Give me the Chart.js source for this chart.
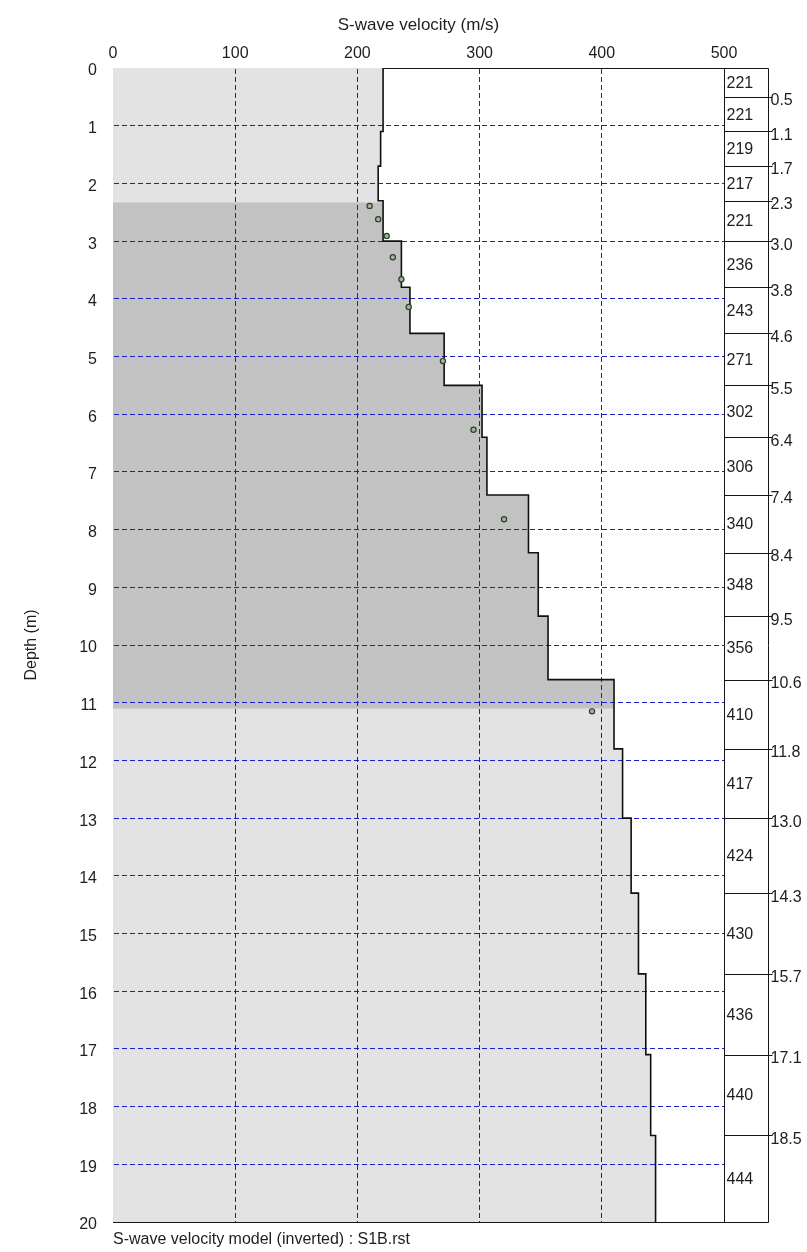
<!DOCTYPE html>
<html>
<head>
<meta charset="utf-8">
<script src="https://cdn.jsdelivr.net/npm/chart.js@4.4.1/dist/chart.umd.min.js"></script>
<style>
html,body{margin:0;padding:0;background:#ffffff;}
#wrap{width:807px;height:1252px;}
</style>
</head>
<body>
<div id="wrap"><canvas id="c" width="807" height="1252"></canvas></div>
<script>
// ---- data ----
const layerBoundaries = [0, 0.5, 1.1, 1.7, 2.3, 3.0, 3.8, 4.6, 5.5, 6.4, 7.4, 8.4, 9.5, 10.6, 11.8, 13.0, 14.3, 15.7, 17.1, 18.5, 20];
const layerVelocities = [221, 221, 219, 217, 221, 236, 243, 271, 302, 306, 340, 348, 356, 410, 417, 424, 430, 436, 440, 444];
const dataVelocities = [210, 217, 224, 229, 236, 242, 270, 295, 320, 392];
const dataDepths = [2.39, 2.62, 2.91, 3.28, 3.66, 4.14, 5.08, 6.27, 7.82, 11.15];
const velocityTicks = [0, 100, 200, 300, 400, 500];
const depthTicks = [0, 1, 2, 3, 4, 5, 6, 7, 8, 9, 10, 11, 12, 13, 14, 15, 16, 17, 18, 19, 20];
const resolvedDepthRange = [2.33, 11.1];
const xTitle = 'S-wave velocity (m/s)';
const yTitle = 'Depth (m)';
const caption = 'S-wave velocity model (inverted) : S1B.rst';

// ---- style ----
const FONT = '"Liberation Sans", Arial, sans-serif';
const TEXT = '#1e1e1e';
const GRID = 'rgb(28,28,205)';
const LIGHT = '#e3e3e3';
const DARK = '#c2c2c2';

function stepProfile(d0, d1) {
  const pts = [];
  for (let i = 0; i < layerVelocities.length; i++) {
    const top = Math.max(layerBoundaries[i], d0);
    const bot = Math.min(layerBoundaries[i + 1], d1);
    if (bot <= top) continue;
    pts.push({x: layerVelocities[i], y: top}, {x: layerVelocities[i], y: bot});
  }
  return pts;
}
const dMin = depthTicks[0], dMax = depthTicks[depthTicks.length - 1];
const vMin = velocityTicks[0], vMax = velocityTicks[velocityTicks.length - 1];
const profile = stepProfile(dMin, dMax);
const lightShape = [{x: vMin, y: dMin}, ...profile, {x: vMin, y: dMax}];
const darkShape = [{x: vMin, y: resolvedDepthRange[0]}, ...stepProfile(resolvedDepthRange[0], resolvedDepthRange[1]), {x: vMin, y: resolvedDepthRange[1]}];
const points = dataVelocities.map((v, i) => ({x: v, y: dataDepths[i]}));

const layerColumn = {
  id: 'layerColumn',
  beforeDatasetsDraw(chart) {
    chart.scales.x.drawGrid(chart.chartArea);
    chart.scales.y.drawGrid(chart.chartArea);
  },
  afterDraw(chart) {
    const {ctx, chartArea: a} = chart;
    const ys = chart.scales.y;
    const colW = 44;
    const x0 = Math.round(a.right) + 0.5, x1 = Math.round(a.right) + colW + 0.5;
    const yt = Math.round(a.top) + 0.5, yb = Math.round(a.bottom) + 0.5;
    ctx.save();
    ctx.font = '16px ' + FONT;
    ctx.textBaseline = 'middle';
    ctx.textAlign = 'left';
    ctx.strokeStyle = '#151515';
    ctx.lineWidth = 1;
    ctx.beginPath();
    ctx.moveTo(x0 - 0.5, yt); ctx.lineTo(x1, yt); ctx.lineTo(x1, yb); ctx.lineTo(x0 - 0.5, yb);
    ctx.moveTo(x0, yt); ctx.lineTo(x0, yb);
    for (let i = 1; i < layerBoundaries.length - 1; i++) {
      const y = Math.round(ys.getPixelForValue(layerBoundaries[i])) + 0.5;
      ctx.moveTo(x0, y); ctx.lineTo(x1 + 4, y);
    }
    ctx.stroke();
    ctx.fillStyle = TEXT;
    for (let i = 0; i < layerVelocities.length; i++) {
      const ym = ys.getPixelForValue((layerBoundaries[i] + layerBoundaries[i + 1]) / 2);
      ctx.fillText(String(layerVelocities[i]), x0 + 2, ym + 1);
    }
    for (let i = 1; i < layerBoundaries.length - 1; i++) {
      const y = ys.getPixelForValue(layerBoundaries[i]);
      ctx.fillText(layerBoundaries[i].toFixed(1), x1 + 2, y + 4);
    }
    ctx.restore();
  }
};

new Chart(document.getElementById('c'), {
  type: 'scatter',
  data: {
    datasets: [
      {
        label: 'data', data: points, showLine: false,
        pointRadius: 2.6, pointBorderWidth: 1.2,
        pointBackgroundColor: '#9fb89a', pointBorderColor: '#2e3d2e'
      },
      {
        label: 'profile', data: profile, showLine: true, fill: false,
        borderColor: '#101010', borderWidth: 1.6, pointRadius: 0, tension: 0
      },
      {
        label: 'resolved', data: darkShape, showLine: true, fill: 'shape',
        backgroundColor: DARK, borderWidth: 0, borderColor: 'rgba(0,0,0,0)', pointRadius: 0, tension: 0
      },
      {
        label: 'model', data: lightShape, showLine: true, fill: 'shape',
        backgroundColor: LIGHT, borderWidth: 0, borderColor: 'rgba(0,0,0,0)', pointRadius: 0, tension: 0
      }
    ]
  },
  options: {
    responsive: false,
    animation: false,
    devicePixelRatio: 1,
    layout: {padding: {left: 0, right: 83, top: 0, bottom: 0}},
    plugins: {
      legend: {display: false},
      tooltip: {enabled: false},
      filler: {drawTime: 'beforeDatasetsDraw'}
    },
    scales: {
      x: {
        type: 'linear', position: 'top', min: vMin, max: vMax,
        afterBuildTicks: s => { s.ticks = velocityTicks.map(v => ({value: v})); },
        afterFit: s => { s.height = 68; },
        ticks: {padding: 5, color: TEXT, font: {family: FONT, size: 16}, maxRotation: 0},
        grid: {
          drawTicks: false, lineWidth: 1,
          color: c => (c.tick && (c.tick.value === vMin || c.tick.value === vMax)) ? 'rgba(0,0,0,0)' : GRID
        },
        border: {display: true, color: '#151515', width: 1, dash: [5, 3], dashOffset: 0},
        title: {display: true, text: xTitle, color: TEXT, font: {family: FONT, size: 17}, padding: {top: 15, bottom: 0}}
      },
      x2: {
        type: 'linear', position: 'bottom', min: vMin, max: vMax,
        afterFit: s => { s.height = 30; },
        ticks: {display: false},
        grid: {display: false, drawTicks: false},
        border: {display: true, color: '#151515', width: 1},
        title: {display: true, text: caption, align: 'start', color: TEXT, font: {family: FONT, size: 16}, padding: {top: 0, bottom: 3}}
      },
      y: {
        type: 'linear', position: 'left', reverse: true, min: dMin, max: dMax,
        afterBuildTicks: s => { s.ticks = depthTicks.map(v => ({value: v})); },
        afterFit: s => { s.width = 113; },
        ticks: {padding: 16, labelOffset: 3, color: TEXT, font: {family: FONT, size: 16}},
        grid: {
          drawTicks: false, lineWidth: 1,
          color: c => (c.tick && (c.tick.value === dMin || c.tick.value === dMax)) ? 'rgba(0,0,0,0)' : GRID
        },
        border: {display: true, color: '#151515', width: 1, dash: [5, 3], dashOffset: 0},
        title: {display: true, text: yTitle, color: TEXT, font: {family: FONT, size: 16}, padding: {top: 22, bottom: 0}}
      }
    }
  },
  plugins: [layerColumn]
});
</script>
</body>
</html>
